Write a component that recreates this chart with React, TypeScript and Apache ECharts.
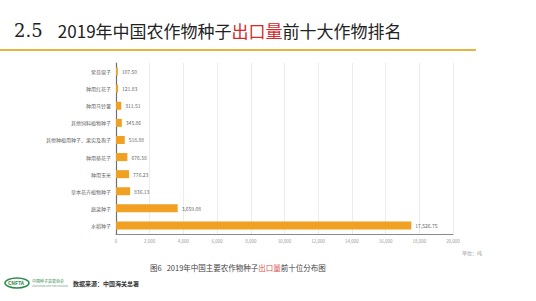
import React, { useEffect, useRef } from "react";
import * as echarts from "echarts";

const categories = [
  "紫苜蓿子",
  "种用红花子",
  "种用马铃薯",
  "其他饲料植物种子",
  "其他种植用种子、果实及孢子",
  "种用葵花子",
  "种用玉米",
  "草本花卉植物种子",
  "蔬菜种子",
  "水稻种子",
];
const exportTons = [107.5, 121.83, 311.51, 345.86, 518.88, 676.38, 776.23, 836.13, 3659.08, 17526.75];
const axisMax = 20000;
const axisInterval = 2000;

const CJK = '"Noto Sans CJK SC", "Noto Sans", sans-serif';

export default function App() {
  const ref = useRef<HTMLDivElement>(null);
  useEffect(() => {
    if (!ref.current) return;
    const chart = echarts.init(ref.current, null, { renderer: "svg" });
    const fmt = (v: number) =>
      v.toLocaleString("en-US", { minimumFractionDigits: 2, maximumFractionDigits: 2 });
    chart.setOption({
      animation: false,
      backgroundColor: "#ffffff",
      grid: { left: 116, right: 83, top: 63, bottom: 67, containLabel: false },
      xAxis: {
        type: "value",
        min: 0,
        max: axisMax,
        interval: axisInterval,
        axisLine: { show: true, lineStyle: { color: "#8a8a8a", width: 1 } },
        axisTick: { show: false },
        splitLine: { show: true, lineStyle: { color: "#ececec", width: 1 } },
        axisLabel: {
          fontSize: 4.5,
          color: "#9a9a9a",
          margin: 5,
          fontFamily: CJK,
          formatter: (v: number) => v.toLocaleString("en-US"),
        },
      },
      yAxis: {
        type: "category",
        data: categories,
        inverse: true,
        axisLine: { show: true, lineStyle: { color: "#6f6f6f", width: 1.2 } },
        axisTick: { show: false },
        axisLabel: { fontSize: 5, color: "#666", margin: 5, fontFamily: CJK },
      },
      series: [
        {
          type: "bar",
          data: exportTons,
          barWidth: 8,
          itemStyle: { color: "#F0A023" },
          label: {
            show: true,
            position: "right",
            distance: 4,
            fontSize: 5,
            color: "#666",
            fontFamily: CJK,
            formatter: (p: any) => fmt(p.value),
          },
        },
      ],
      graphic: [
        {
          type: "text",
          left: 14,
          top: 21,
          style: {
            text: "{n|2.5}{t|    2019年中国农作物种子}{r|出口量}{t|前十大作物排名}",
            rich: {
              n: { fontSize: 18, fontFamily: '"DejaVu Serif", serif', fill: "#222" },
              t: { fontSize: 17, fontFamily: CJK, fill: "#222" },
              r: { fontSize: 17, fontFamily: CJK, fill: "#d42a2a" },
            },
          },
        },
        {
          type: "rect",
          shape: { x: 0, y: 49, width: 476, height: 2 },
          style: { fill: "#E8B440" },
        },
        {
          type: "text",
          left: 462,
          top: 250,
          style: { text: "单位：吨", fontSize: 5, fill: "#999", fontFamily: CJK },
        },
        {
          type: "text",
          left: 150,
          top: 264,
          style: {
            text: "{t|图6   2019年中国主要农作物种子}{r|出口量}{t|前十位分布图}",
            rich: {
              t: { fontSize: 7.5, fontFamily: CJK, fill: "#444" },
              r: { fontSize: 7.5, fontFamily: CJK, fill: "#d9534f" },
            },
          },
        },
        {
          type: "ellipse",
          shape: { cx: 17, cy: 283, rx: 12, ry: 5 },
          style: { fill: "#ffffff", stroke: "#2e8b4a", lineWidth: 1.5 },
        },
        {
          type: "text",
          left: 8,
          top: 280,
          style: { text: "CNFTA", fontSize: 5, fontWeight: "bold", fill: "#2e8b4a", fontFamily: CJK },
        },
        {
          type: "text",
          left: 32,
          top: 279,
          style: { text: "中国种子贸易协会", fontSize: 4, fill: "#2e8b4a", fontFamily: CJK },
        },
        {
          type: "text",
          left: 32,
          top: 285,
          style: { text: "China National Seed Trade Association", fontSize: 2, fill: "#6a9a7a", fontFamily: CJK },
        },
        {
          type: "text",
          left: 73,
          top: 280,
          style: { text: "数据来源：中国海关总署", fontSize: 6, fontWeight: "bold", fill: "#333", fontFamily: CJK },
        },
      ],
    });
    return () => chart.dispose();
  }, []);
  return (
    <div
      ref={ref}
      style={{ position: "fixed", left: 0, top: 0, width: 536, height: 301, background: "#fff" }}
    />
  );
}
